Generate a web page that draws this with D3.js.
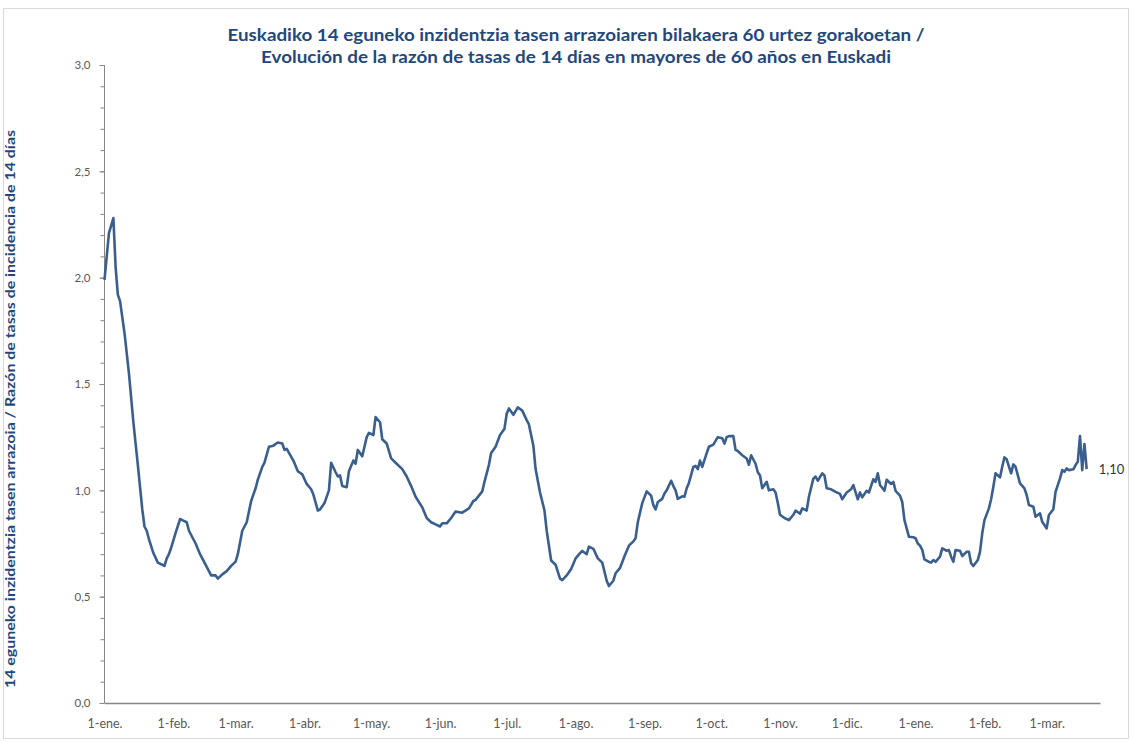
<!DOCTYPE html>
<html>
<head>
<meta charset="utf-8">
<script src="https://cdn.jsdelivr.net/npm/d3@7"></script>
<style>
  body { margin: 0; background: #fff; }
  svg { display: block; }
  .tick text { fill: #595959; font-family: Lato, "Liberation Sans", sans-serif; }
</style>
</head>
<body>
<svg id="chart" width="1132" height="742"></svg>
<script>
/******************************** Data (days since 1-ene-2021, ratio) ********************************/

var titleLines = [
  "Euskadiko 14 eguneko inzidentzia tasen arrazoiaren bilakaera 60 urtez gorakoetan /",
  "Evolución de la razón de tasas de 14 días en mayores de 60 años en Euskadi"
];
var yTitle = "14 eguneko inzidentzia tasen arrazoia / Razón de tasas de incidencia de 14 días";

var monthLabels = ["1-ene.", "1-feb.", "1-mar.", "1-abr.", "1-may.", "1-jun.", "1-jul.",
                   "1-ago.", "1-sep.", "1-oct.", "1-nov.", "1-dic."];
var yMajorTicks = [0, 0.5, 1, 1.5, 2, 2.5, 3];

var days = [
  0, 2, 4, 5, 6, 7, 9, 11, 13, 15, 17, 18, 19, 20, 22, 24, 26, 27, 28, 29,
  30, 32, 34, 35, 37, 38, 41, 43, 44, 46, 48, 50, 51, 53, 55, 57, 59, 60, 62, 64,
  66, 68, 69, 71, 72, 74, 76, 78, 80, 81, 82, 85, 87, 89, 91, 93, 94, 96, 97, 99,
  101, 102, 104, 105, 106, 107, 109, 110, 112, 113, 114, 116, 118, 119, 121, 122, 124, 125, 127, 129,
  131, 134, 136, 138, 140, 143, 145, 147, 149, 151, 152, 154, 156, 158, 161, 164, 166, 167, 170, 171,
  173, 174, 176, 178, 180, 181, 182, 184, 186, 188, 190, 191, 193, 194, 196, 198, 199, 201, 203, 205,
  206, 208, 210, 212, 214, 215, 217, 218, 220, 222, 224, 226, 227, 229, 230, 232, 234, 236, 238, 239,
  240, 242, 244, 246, 247, 248, 249, 251, 252, 253, 255, 256, 257, 258, 260, 261, 262, 263, 265, 266,
  267, 268, 269, 271, 272, 274, 276, 278, 279, 280, 281, 283, 284, 285, 287, 289, 290, 291, 293, 294,
  295, 296, 298, 299, 301, 302, 303, 304, 306, 308, 310, 311, 313, 314, 316, 317, 319, 320, 321, 323,
  324, 325, 327, 329, 331, 332, 334, 336, 337, 339, 340, 341, 343, 344, 346, 347, 348, 349, 351, 352,
  354, 355, 356, 358, 359, 360, 362, 364, 365, 366, 367, 368, 369, 371, 372, 373, 374, 376, 377, 379,
  380, 381, 382, 383, 385, 386, 388, 389, 390, 391, 393, 394, 395, 396, 398, 399, 400, 401, 403, 404,
  405, 406, 408, 409, 410, 412, 414, 415, 416, 418, 419, 421, 422, 424, 425, 427, 428, 430, 431, 432,
  433, 434, 436, 437, 438, 439, 440, 441, 442
];

var ratio = [
  1.99, 2.21, 2.28, 2.05, 1.92, 1.89, 1.74, 1.55, 1.32, 1.12, 0.91, 0.83, 0.81, 0.77, 0.705, 0.66, 0.65, 0.645, 0.68, 0.70,
  0.73, 0.80, 0.865, 0.86, 0.85, 0.81, 0.75, 0.70, 0.68, 0.64, 0.60, 0.60, 0.585, 0.605, 0.62, 0.645, 0.665, 0.70, 0.81, 0.85,
  0.95, 1.01, 1.05, 1.11, 1.13, 1.205, 1.21, 1.225, 1.22, 1.19, 1.195, 1.14, 1.09, 1.075, 1.03, 1.005, 0.98, 0.905, 0.91, 0.94,
  1.00, 1.13, 1.085, 1.065, 1.07, 1.02, 1.015, 1.09, 1.14, 1.125, 1.19, 1.16, 1.25, 1.27, 1.26, 1.345, 1.32, 1.24, 1.22, 1.15,
  1.13, 1.10, 1.065, 1.02, 0.97, 0.92, 0.87, 0.85, 0.84, 0.83, 0.845, 0.845, 0.87, 0.90, 0.895, 0.915, 0.95, 0.955, 0.995, 1.04,
  1.12, 1.175, 1.205, 1.26, 1.29, 1.36, 1.385, 1.355, 1.39, 1.375, 1.33, 1.31, 1.21, 1.10, 0.99, 0.905, 0.81, 0.67, 0.65, 0.585,
  0.578, 0.60, 0.63, 0.68, 0.705, 0.715, 0.70, 0.735, 0.725, 0.68, 0.66, 0.575, 0.55, 0.575, 0.61, 0.635, 0.69, 0.74, 0.76, 0.775,
  0.85, 0.94, 0.995, 0.975, 0.93, 0.91, 0.945, 0.96, 0.985, 1.00, 1.045, 1.02, 1.00, 0.96, 0.972, 0.97, 1.01, 1.035, 1.11, 1.115,
  1.10, 1.14, 1.11, 1.175, 1.205, 1.215, 1.25, 1.245, 1.22, 1.25, 1.255, 1.255, 1.19, 1.185, 1.165, 1.15, 1.12, 1.165, 1.125, 1.085,
  1.07, 1.01, 1.04, 1.00, 1.005, 0.99, 0.94, 0.885, 0.87, 0.86, 0.885, 0.905, 0.89, 0.915, 0.905, 0.97, 1.055, 1.065, 1.045, 1.08,
  1.07, 1.01, 1.005, 0.993, 0.983, 0.958, 0.99, 1.005, 1.025, 0.958, 0.99, 0.967, 0.998, 0.99, 1.052, 1.04, 1.08, 1.025, 0.998, 1.05,
  1.03, 1.04, 0.998, 0.975, 0.945, 0.86, 0.782, 0.779, 0.775, 0.75, 0.74, 0.72, 0.675, 0.664, 0.66, 0.672, 0.664, 0.688, 0.727, 0.716,
  0.719, 0.688, 0.664, 0.719, 0.716, 0.691, 0.711, 0.711, 0.657, 0.644, 0.672, 0.711, 0.798, 0.86, 0.915, 0.958, 1.017, 1.08, 1.061, 1.111,
  1.155, 1.146, 1.08, 1.122, 1.11, 1.033, 1.009, 0.978, 0.931, 0.923, 0.876, 0.892, 0.852, 0.821, 0.884, 0.911, 0.993, 1.056, 1.095, 1.087,
  1.103, 1.095, 1.099, 1.119, 1.134, 1.255, 1.095, 1.218, 1.10
];

/******************************** Setup ********************************/

var svg = d3.select("#chart");
var startDate = new Date(2021, 0, 1);
var endDate = new Date(2022, 2, 25);

var data = days.map(function(d, i) {
  return { date: d3.timeDay.offset(startDate, d), value: ratio[i] };
});

var x = d3.scaleTime().domain([startDate, endDate]).range([104.5, 1100]);
var y = d3.scaleLinear().domain([0, 3]).range([703, 65]);

var es = d3.formatLocale({ decimal: ",", thousands: ".", grouping: [3], currency: ["", "€"] });

// outer border
svg.append("rect")
  .attr("x", 3.5).attr("y", 8.5).attr("width", 1125).attr("height", 730)
  .attr("fill", "none").attr("stroke", "#d9d9d9");

/******************************** Title ********************************/

svg.selectAll(".title").data(titleLines).enter().append("text")
  .attr("class", "title")
  .attr("x", 576)
  .attr("y", function(d, i) { return 41 + i * 22; })
  .attr("text-anchor", "middle")
  .attr("textLength", function(d, i) { return i === 0 ? 697 : 630; })
  .attr("lengthAdjust", "spacingAndGlyphs")
  .style("font-family", "Lato, 'Liberation Sans', sans-serif")
  .style("font-weight", "bold")
  .style("font-size", "17px")
  .style("fill", "#1f497d")
  .text(function(d) { return d; });

/******************************** Axes ********************************/

var yAxisMinor = d3.axisLeft(y)
  .tickValues(d3.range(0, 31).map(function(i) { return i / 10; }))
  .tickSize(4).tickFormat("");
svg.append("g").attr("transform", "translate(104.5,0)").call(yAxisMinor)
  .call(function(g) {
    g.selectAll("line, path").attr("stroke", "#868686");
    g.select(".domain").remove();
  });

var yAxis = d3.axisLeft(y)
  .tickValues(yMajorTicks)
  .tickSize(5).tickPadding(9)
  .tickFormat(es.format(".1f"));
svg.append("g").attr("transform", "translate(104.5,0)").call(yAxis)
  .call(function(g) {
    g.selectAll("line").attr("stroke", "#868686");
    g.select(".domain").attr("stroke", "#868686").attr("d", "M0," + y(3) + "V" + y(0));
    g.selectAll("text").style("font-size", "11.5px");
  });

var monthTicks = d3.timeMonth.range(startDate, endDate);
var xAxis = d3.axisBottom(x)
  .tickValues(monthTicks)
  .tickSize(0).tickPadding(16)
  .tickFormat(function(d) { return monthLabels[d.getMonth()]; });
svg.append("g").attr("transform", "translate(0," + y(0) + ")").call(xAxis)
  .call(function(g) {
    g.select(".domain").attr("stroke", "#868686").attr("stroke-width", 1.3);
    g.selectAll("text").style("font-size", "12.5px");
  });

svg.append("text")
  .attr("transform", "translate(15,409) rotate(-90)")
  .attr("text-anchor", "middle")
  .attr("textLength", 558)
  .attr("lengthAdjust", "spacingAndGlyphs")
  .style("font-family", "Lato, 'Liberation Sans', sans-serif")
  .style("font-weight", "bold")
  .style("font-size", "13px")
  .style("fill", "#1f497d")
  .text(yTitle);

/******************************** Line ********************************/

var line = d3.line()
  .x(function(d) { return x(d.date); })
  .y(function(d) { return y(d.value); });

svg.append("path")
  .datum(data)
  .attr("fill", "none")
  .attr("stroke", "#3a5f8e")
  .attr("stroke-width", 2.6)
  .attr("stroke-linejoin", "round")
  .attr("d", line);

// last value label
var last = data[data.length - 1];
svg.append("text")
  .attr("x", x(last.date) + 12)
  .attr("y", y(last.value) + 5)
  .style("font-family", "Lato, 'Liberation Sans', sans-serif")
  .style("font-size", "13px")
  .style("fill", "#333")
  .text(es.format(".2f")(last.value));
</script>
</body>
</html>
